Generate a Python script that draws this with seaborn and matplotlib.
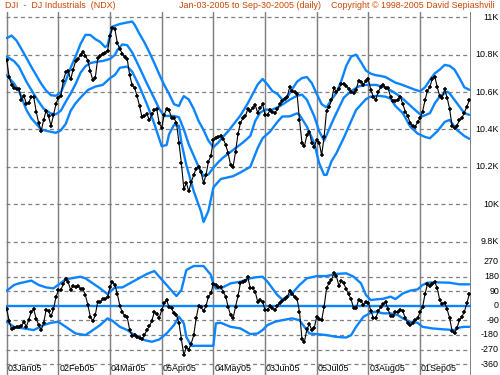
import numpy as np
import pandas as pd
import matplotlib
matplotlib.use("Agg")
import matplotlib.pyplot as plt
import seaborn as sns
from matplotlib.transforms import blended_transform_factory as btf

# ---------------- data ----------------
holidays = ['2005-01-17', '2005-02-21', '2005-03-25', '2005-05-30', '2005-07-04', '2005-09-05']
tick_dates = ['2005-01-03', '2005-02-02', '2005-03-04', '2005-04-05', '2005-05-04',
              '2005-06-03', '2005-07-05', '2005-08-03', '2005-09-01']
tick_labels = ['03Jan05', '02Feb05', '04Mar05', '05Apr05', '04May05',
               '03Jun05', '05Jul05', '03Aug05', '01Sep05']

price = [10772, 10680, 10640, 10622, 10616, 10617, 10560, 10579, 10538, 10544,
         10575, 10572, 10495, 10435, 10390, 10450, 10500, 10470, 10420, 10475,
         10535, 10570, 10580, 10660, 10705, 10710, 10668, 10720, 10765, 10778,
         10800, 10815, 10795, 10768, 10710, 10664, 10675, 10780, 10792, 10805,
         10811, 10820, 10900, 10945, 10935, 10860, 10830, 10805, 10788, 10775,
         10690, 10635, 10622, 10578, 10525, 10465, 10470, 10482, 10450, 10480,
         10505, 10508, 10432, 10410, 10478, 10510, 10503, 10462, 10460, 10435,
         10330, 10220, 10080, 10115, 10070, 10118, 10157, 10190, 10200, 10170,
         10115, 10155, 10228, 10260, 10344, 10352, 10360, 10365, 10350, 10318,
         10273, 10208, 10200, 10280, 10375, 10435, 10460, 10470, 10510, 10500,
         10515, 10530, 10490, 10515, 10535, 10478, 10475, 10505, 10495, 10488,
         10508, 10535, 10550, 10562, 10575, 10625, 10605, 10600, 10590, 10450,
         10330, 10310, 10370, 10388, 10326, 10308, 10345, 10330, 10262, 10360,
         10500, 10520, 10555, 10622, 10600, 10615, 10645, 10643, 10633, 10618,
         10600, 10595, 10612, 10660, 10656, 10640, 10660, 10668, 10610, 10575,
         10560, 10602, 10625, 10640, 10620, 10620, 10575, 10550, 10552, 10558,
         10575, 10535, 10495, 10472, 10433, 10418, 10415, 10440, 10460, 10495,
         10555, 10608, 10628, 10672, 10683, 10625, 10578, 10570, 10615, 10570,
         10510, 10420, 10406, 10420, 10450, 10460, 10490, 10522, 10555]

upper_day = [0, 2, 4, 6, 8, 10, 12, 14, 16, 18, 20, 22, 24, 26, 28, 30, 32, 34, 36, 38,
             40, 41, 42, 43, 46, 49, 51, 52, 54, 56, 58, 60, 62, 64, 66, 68, 70, 71, 72, 74,
             76, 78, 80, 82, 84, 86, 88, 90, 92, 95, 98, 100, 102, 104, 106, 108, 110, 112, 114, 116,
             118, 120, 122, 124, 126, 128, 130, 132, 134, 136, 138, 140, 142, 144, 146, 148, 150, 152, 154, 156,
             158, 160, 162, 164, 166, 168, 170, 172, 174, 176, 178, 180, 182, 184, 186, 188]
upper_val = [10888, 10902, 10875, 10830, 10783, 10735, 10690, 10645, 10608, 10583, 10580, 10598, 10660, 10730, 10790, 10857, 10906, 10905, 10883, 10868,
             10840, 10850, 10905, 10950, 10964, 10972, 10977, 10960, 10910, 10865, 10812, 10755, 10695, 10638, 10590, 10535, 10525, 10555, 10578, 10560,
             10510, 10445, 10397, 10340, 10305, 10330, 10362, 10390, 10424, 10475, 10540, 10590, 10640, 10670, 10640, 10605, 10590, 10560, 10570, 10615,
             10655, 10675, 10680, 10648, 10590, 10535, 10518, 10560, 10595, 10660, 10740, 10790, 10800, 10760, 10715, 10698, 10690, 10686, 10680, 10665,
             10650, 10642, 10632, 10622, 10612, 10604, 10625, 10665, 10700, 10720, 10745, 10740, 10720, 10675, 10625, 10612]

mid_day = [0, 3, 5, 8, 11, 13, 15, 18, 20, 22, 24, 26, 28, 30, 32, 34, 37, 39, 42, 44,
           45, 47, 49, 51, 54, 57, 60, 62, 64, 66, 68, 70, 72, 74, 76, 78, 80, 82, 84, 86,
           88, 90, 93, 96, 99, 101, 103, 105, 108, 111, 115, 118, 120, 122, 125, 127, 129, 131, 133, 135,
           137, 140, 143, 146, 150, 153, 157, 160, 163, 166, 169, 172, 174, 176, 179, 180, 183, 186, 188]
mid_val = [10790, 10765, 10735, 10656, 10590, 10549, 10511, 10485, 10481, 10500, 10548, 10592, 10643, 10703, 10738, 10755, 10763, 10766, 10777, 10799,
           10825, 10855, 10850, 10812, 10730, 10645, 10565, 10510, 10472, 10472, 10472, 10465, 10400, 10320, 10260, 10200, 10150, 10160, 10195, 10225,
           10250, 10270, 10300, 10330, 10365, 10445, 10490, 10506, 10506, 10524, 10559, 10580, 10586, 10559, 10470, 10390, 10340, 10400, 10460, 10515,
           10570, 10605, 10630, 10638, 10638, 10629, 10602, 10575, 10540, 10504, 10470, 10487, 10540, 10576, 10602, 10593, 10540, 10487, 10478]

lower_day = [0, 3, 5, 8, 10, 12, 14, 17, 20, 22, 24, 26, 28, 30, 33, 36, 39, 42, 44, 46,
             49, 51, 54, 57, 60, 62, 63, 65, 66, 68, 70, 71, 73, 76, 79, 80, 82, 84, 87, 92,
             95, 99, 102, 104, 107, 110, 112, 115, 118, 119, 122, 125, 127, 129, 130, 132, 134, 137, 140, 142,
             146, 148, 151, 154, 156, 158, 161, 164, 167, 170, 172, 175, 178, 180, 183, 186, 188]
lower_val = [10690, 10645, 10605, 10505, 10460, 10430, 10400, 10390, 10382, 10395, 10430, 10500, 10540, 10570, 10611, 10629, 10638, 10674, 10692, 10730,
             10736, 10709, 10629, 10535, 10430, 10350, 10310, 10317, 10375, 10424, 10420, 10330, 10210, 10070, 9960, 9905, 9965, 10090, 10135, 10150,
             10170, 10200, 10300, 10353, 10388, 10440, 10469, 10470, 10486, 10478, 10415, 10326, 10219, 10157, 10157, 10230, 10273, 10355, 10445, 10504,
             10562, 10576, 10580, 10575, 10565, 10525, 10487, 10415, 10378, 10360, 10353, 10390, 10440, 10451, 10397, 10365, 10350]

osc = [-23, -93, -146, -140, -132, -132, -122, -101, -128, -85,
       -37, -23, -80, -119, -150, -109, -27, -33, -66, -23,
       52, 95, 97, 134, 167, 146, 97, 124, 113, 124,
       101, 103, 64, 4, -68, -95, -58, 25, 21, 41,
       41, 52, 117, 146, 128, 70, 0, -41, -62, -72,
       -150, -187, -183, -190, -200, -208, -179, -150, -126, -93,
       -37, -52, -74, -27, 14, 35, -10, -16, -47, -58,
       -105, -204, -305, -254, -270, -233, -181, -78, -2, -8,
       -33, -2, 56, 76, 136, 128, 117, 113, 87, 56,
       -6, -60, -78, -6, 60, 140, 148, 152, 175, 110,
       107, 87, 25, 35, 25, -27, -27, -2, -16, -27,
       -2, 19, 27, 41, 52, 91, 72, 54, 43, -37,
       -204, -222, -146, -113, -150, -136, -68, -84, -89, -6,
       107, 140, 159, 200, 183, 122, 155, 138, 101, 70,
       39, -16, -16, 35, 31, 4, 23, 19, -31, -74,
       -78, -31, -10, 12, 21, -23, -62, -62, -39, -41,
       -27, -33, -78, -105, -119, -109, -89, -78, -39, -10,
       70, 134, 122, 134, 146, 107, 35, 10, 19, -23,
       -74, -154, -171, -136, -89, -68, -37, 14, 72]

osc_up_day = [0, 3, 5, 10, 13, 16, 19, 24, 30, 32, 35, 38, 41, 44, 47, 50, 53, 57, 60, 62,
              65, 68, 69, 71, 73, 76, 80, 83, 84, 85, 87, 91, 95, 99, 101, 104, 106, 108, 110, 112,
              114, 116, 119, 122, 126, 130, 134, 138, 141, 144, 146, 148, 150, 153, 156, 158, 161, 164, 167, 169,
              171, 175, 180, 184, 188]
osc_up_val = [93, 128, 138, 155, 128, 113, 107, 163, 179, 169, 138, 107, 72, 113, 113, 138, 163, 196, 214, 179,
              128, 76, 60, 97, 220, 245, 245, 190, 134, 107, 107, 138, 148, 169, 175, 179, 148, 107, 66, 39,
              56, 76, 128, 169, 183, 183, 196, 200, 179, 138, 66, 35, 39, 43, 56, 41, 76, 93, 101, 128,
              142, 144, 142, 132, 132]

osc_lo_day = [0, 3, 7, 11, 15, 18, 21, 24, 28, 32, 34, 38, 41, 43, 46, 49, 52, 56, 59, 62,
              65, 68, 70, 72, 73, 75, 79, 84, 85, 87, 91, 95, 99, 102, 104, 106, 109, 112, 116, 119,
              121, 123, 126, 130, 134, 138, 140, 142, 145, 148, 150, 153, 156, 159, 161, 164, 167, 169, 173, 178,
              182, 184, 186, 188]
osc_lo_val = [-99, -130, -140, -150, -119, -105, -99, -130, -171, -181, -161, -119, -78, -93, -130, -150, -181, -212, -222, -208,
              -171, -119, -68, -109, -192, -247, -247, -247, -109, -105, -130, -140, -175, -171, -150, -119, -99, -89, -78, -89,
              -130, -171, -175, -181, -192, -196, -181, -130, -68, -43, -37, -47, -47, -58, -78, -99, -105, -130, -140, -146,
              -150, -134, -130, -130]

upper_ticks = [11000, 10800, 10600, 10400, 10200, 10000, 9800]
upper_tick_labels = ['11K', '10.8K', '10.6K', '10.4K', '10.2K', '10K', '9.8K']
lower_ticks = [270, 180, 90, 0, -90, -180, -270, -360]
lower_tick_labels = ['270', '180', '90', '0', '-90', '-180', '-270', '-360']

title_left = 'DJI  -  DJ Industrials  (NDX)'
title_mid = 'Jan-03-2005 to Sep-30-2005 (daily)'
title_right = 'Copyright \u00a9 1998-2005 David Sepiashvili'

# ---------------- calendar ----------------
days = pd.bdate_range('2005-01-03', '2005-09-30')
days = days[~days.isin(pd.to_datetime(holidays))]
day_num = np.arange(len(days))
tick_pos = [days.get_loc(pd.Timestamp(d)) for d in tick_dates]

# ---------------- style ----------------
sns.set_style("white")
plt.rcParams['font.family'] = ['Liberation Sans', 'DejaVu Sans']
BLUE = '#0a84ff'
GRID = '#808080'
TXT = '#cc4400'
FS = 6.4

W, H = 500, 375
fig = plt.figure(figsize=(W / 100, H / 100), dpi=100)
x0, x1 = 6, 471
ax1 = fig.add_axes([x0 / W, 1 - 248 / H, (x1 - x0) / W, (248 - 12) / H])
ax2 = fig.add_axes([x0 / W, 0, (x1 - x0) / W, (375 - 248) / H])

for ax in (ax1, ax2):
    for s in ax.spines.values():
        s.set_visible(False)
    ax.set_xticks([])
    ax.set_yticks([])
    ax.set_xlim(-0.28, 188.7)
    ax.patch.set_alpha(0)

ax1.set_ylim(9766, 11028)
ax2.set_ylim(-427, 356)

# grid
for v in upper_ticks:
    ax1.axhline(v, color=GRID, lw=0.9, dashes=(3.2, 2.6), zorder=0)
for v in lower_ticks:
    if v != 0:
        ax2.axhline(v, color=GRID, lw=0.9, dashes=(3.2, 2.6), zorder=0)
for ax in (ax1, ax2):
    for tp in tick_pos:
        ax.axvline(tp, color=GRID, lw=1.05, zorder=0)
    ax.axvline(188.7, color=GRID, lw=1.4, zorder=0)

# upper panel
sns.lineplot(x=upper_day, y=upper_val, ax=ax1, color=BLUE, lw=1.7, zorder=2)
sns.lineplot(x=mid_day, y=mid_val, ax=ax1, color=BLUE, lw=1.7, zorder=2)
sns.lineplot(x=lower_day, y=lower_val, ax=ax1, color=BLUE, lw=1.7, zorder=2)
sns.lineplot(x=day_num, y=price, ax=ax1, color='black', lw=0.8, marker='+',
             markersize=3.4, markeredgewidth=1.1, markeredgecolor='black', zorder=3)

# lower panel
ax2.axhline(0, color=BLUE, lw=1.7, zorder=2)
sns.lineplot(x=osc_up_day, y=osc_up_val, ax=ax2, color=BLUE, lw=1.7, zorder=2)
sns.lineplot(x=osc_lo_day, y=osc_lo_val, ax=ax2, color=BLUE, lw=1.7, zorder=2)
sns.lineplot(x=day_num, y=osc, ax=ax2, color='black', lw=0.8, marker='+',
             markersize=3.4, markeredgewidth=1.1, markeredgecolor='black', zorder=3)

for ax in (ax1, ax2):
    ax.set_xlabel('')
    ax.set_ylabel('')

# right-hand value labels
xr = (499 - x0) / (x1 - x0)
for v, lab in zip(upper_ticks, upper_tick_labels):
    ax1.text(xr, v, lab, transform=btf(ax1.transAxes, ax1.transData),
             ha='right', va='center', fontsize=FS, color='black', clip_on=False)
for v, lab in zip(lower_ticks, lower_tick_labels):
    ax2.text(xr, v, lab, transform=btf(ax2.transAxes, ax2.transData),
             ha='right', va='center', fontsize=FS, color='black', clip_on=False)

# date labels
for tp, lab in zip(tick_pos, tick_labels):
    ax2.text(tp + 0.35, 0.055, lab, transform=btf(ax2.transData, ax2.transAxes),
             ha='left', va='center', fontsize=FS, color='black')

# header
fig.text(5 / W, 1 - 6 / H, title_left, color=TXT, fontsize=FS, ha='left', va='center')
fig.text(179 / W, 1 - 6 / H, title_mid, color=TXT, fontsize=FS, ha='left', va='center')
fig.text(495 / W, 1 - 6 / H, title_right, color=TXT, fontsize=FS, ha='right', va='center')

fig.savefig('out.png', dpi=100, facecolor='white')
